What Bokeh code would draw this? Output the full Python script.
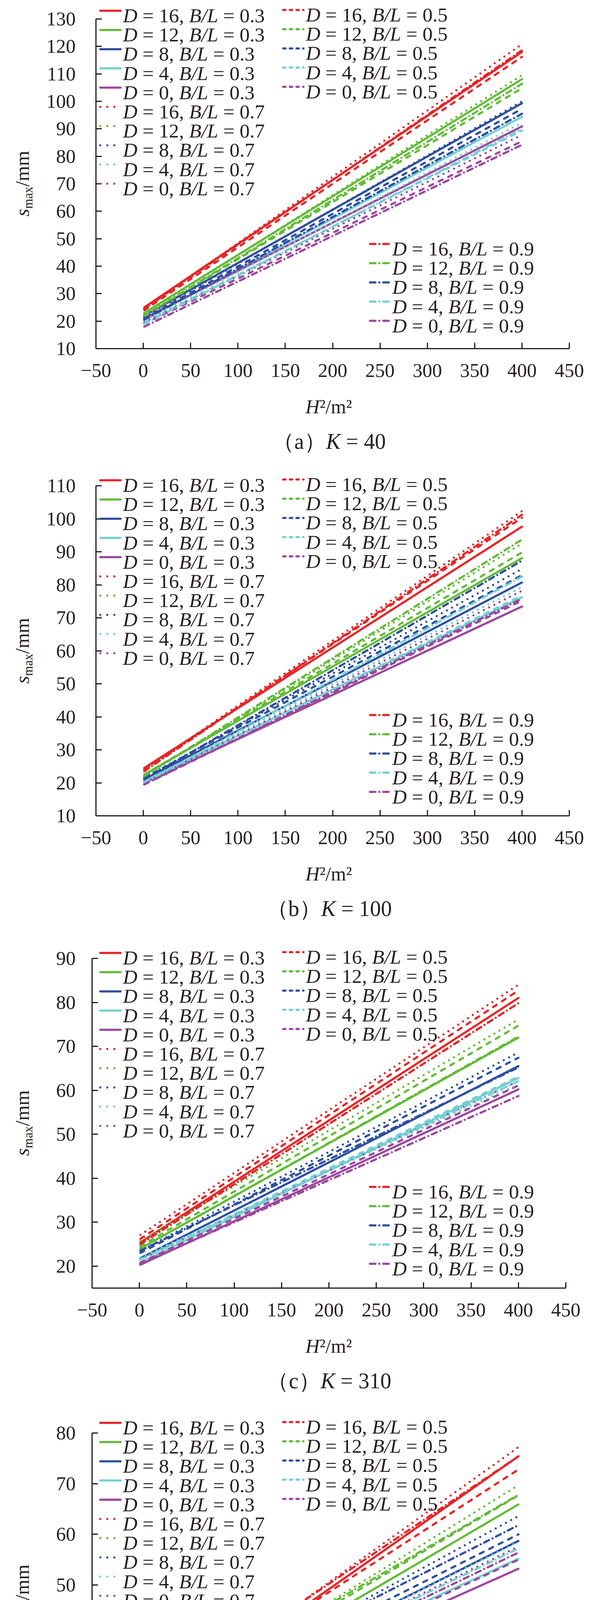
import math
from bokeh.plotting import figure
from bokeh.models import Label, Arrow, FixedTicker, Range1d, Div
from bokeh.layouts import column, row
from bokeh.embed import file_html
from bokeh.resources import INLINE

# ---------------- data ----------------
H2 = [1, 400]                      # H^2 / m^2 (first and last computed point)
D_values = [16, 12, 8, 4, 0]
BL_values = [0.3, 0.5, 0.7, 0.9]
K_values = [40, 100, 310, 500, 975]
panel_letters = ["a", "b", "c", "d", "e"]
x_ticks = [-50, 0, 50, 100, 150, 200, 250, 300, 350, 400, 450]

# s_max (mm) at H2[0] and H2[1]; one pair per D (16, 12, 8, 4, 0)
k40_bl03 = [[25.0, 118.0], [23.0, 108.1], [22.0, 99.3], [20.5, 94.4], [21.0, 90.9]]
k40_bl05 = [[24.0, 116.2], [22.0, 104.8], [21.0, 97.3], [19.5, 89.4], [19.0, 85.5]]
k40_bl07 = [[24.5, 120.8], [22.5, 109.5], [21.5, 100.0], [20.0, 92.2], [19.5, 87.8]]
k40_bl09 = [[24.5, 118.6], [22.0, 106.4], [20.5, 95.5], [19.0, 90.0], [18.0, 84.2]]

k100_bl03 = [[24.5, 97.6], [22.5, 88.1], [21.0, 80.7], [20.5, 76.2], [20.0, 73.4]]
k100_bl05 = [[24.0, 100.3], [22.5, 89.8], [21.5, 82.9], [20.0, 76.8], [19.5, 75.2]]
k100_bl07 = [[24.0, 102.3], [22.0, 92.5], [21.5, 84.8], [20.5, 79.3], [20.0, 78.2]]
k100_bl09 = [[23.5, 101.2], [22.0, 93.7], [21.0, 87.3], [20.0, 82.5], [19.5, 75.8]]

k310_bl03 = [[25.4, 81.0], [24.0, 72.0], [21.8, 65.5], [20.8, 62.8], [20.3, 60.2]]
k310_bl05 = [[26.2, 82.7], [24.5, 74.7], [23.0, 67.4], [21.5, 63.1], [20.8, 61.1]]
k310_bl07 = [[27.1, 84.0], [25.7, 76.1], [23.5, 68.6], [22.0, 61.4], [21.5, 62.1]]
k310_bl09 = [[25.0, 79.8], [24.0, 72.2], [23.5, 65.2], [21.5, 62.1], [20.5, 58.7]]

k500_bl03 = [[23.1, 75.4], [22.2, 65.9], [21.4, 58.7], [20.8, 55.2], [19.9, 53.2]]
k500_bl05 = [[24.5, 72.8], [23.5, 67.7], [22.5, 60.0], [20.5, 55.0], [20.0, 55.0]]
k500_bl07 = [[24.0, 77.2], [23.5, 69.7], [23.0, 63.6], [21.5, 58.5], [21.0, 57.6]]
k500_bl09 = [[25.2, 75.4], [24.6, 67.8], [24.0, 61.8], [21.0, 57.2], [20.5, 56.4]]

k975_bl03 = [[22.0, 69.4], [21.5, 60.6], [21.0, 54.3], [20.0, 51.3], [19.5, 49.3]]
k975_bl05 = [[23.0, 76.0], [22.0, 68.0], [21.5, 61.4], [20.5, 57.7], [20.0, 55.0]]
k975_bl07 = [[22.0, 72.5], [21.5, 65.0], [21.0, 58.7], [20.0, 55.6], [20.0, 53.5]]
k975_bl09 = [[22.0, 72.7], [21.5, 65.4], [21.0, 58.9], [20.5, 56.5], [20.0, 56.0]]

series_by_K = [
    [k40_bl03, k40_bl05, k40_bl07, k40_bl09],
    [k100_bl03, k100_bl05, k100_bl07, k100_bl09],
    [k310_bl03, k310_bl05, k310_bl07, k310_bl09],
    [k500_bl03, k500_bl05, k500_bl07, k500_bl09],
    [k975_bl03, k975_bl05, k975_bl07, k975_bl09],
]

# ---------------- styles ----------------
FONT = "Liberation Serif"
TXT = "#231f20"
D_colors = ["#e52629", "#63bb38", "#2e4f9f", "#74cfd2", "#9b479f"]
BL_dash = ["solid", "11 16", "0 15", "14 10 0 10"]
BL_dash_legend = ["solid", "6 11", "0 18", "14 10 0 10"]
LW = 5.5

W_REG = {' ': 250, '=': 564, ',': 250, '.': 250, '/': 278}
W_ITA = {'D': 722, 'B': 611, 'L': 556, '/': 278}


def tw(s, italic, size):
    tab = W_ITA if italic else W_REG
    return sum((500 if ch.isdigit() else tab.get(ch, 500)) for ch in s) * size / 1000.0


# layout of each panel in the reference (panel-local pixels)
panels = [
    dict(yr=(10, 130), yt=list(range(10, 131, 10)), L=253, R=1464, T=56, B=900, y0=35, y3=632, ystd=52, yc=478),
    dict(yr=(10, 110), yt=list(range(10, 111, 10)), L=253, R=1464, T=51, B=896, y0=37, y3=638, ystd=52, yc=474),
    dict(yr=(15, 90), yt=list(range(20, 91, 10)), L=243, R=1455, T=61, B=905, y0=47, y3=646, ystd=42, yc=483),
    dict(yr=(15, 80), yt=list(range(20, 81, 10)), L=243, R=1455, T=76, B=919, y0=50, y3=648, ystd=42, yc=497),
    dict(yr=(15, 80), yt=list(range(20, 81, 10)), L=243, R=1455, T=73, B=918, y0=57, y3=653, ystd=42, yc=495),
]
block_heights = [1192, 1200, 1200, 1200, 1184]
LEFT_W = 110          # width of the y-title strip
FIG_W = 1519 - LEFT_W
FIG_X0 = 8 + LEFT_W   # reference x where the figure starts
ROW = 49.2
LS = 51.5             # legend font size
BELOW = 100           # space under the frame kept inside the figure


def abs_box(html, left, top, width, height, size, extra=""):
    return (f'<div style="position:absolute; left:{left:.1f}px; top:{top:.1f}px; width:{width}px; '
            f'height:{height}px; text-align:center; font-family:\'{FONT}\'; font-size:{size}px; '
            f'line-height:1; white-space:nowrap; color:{TXT}; {extra}">{html}</div>')


blocks = []
for k, cfg in enumerate(panels):
    t0 = 8 if k == 0 else 0
    Hb = block_heights[k]
    L, R, T, B = cfg["L"], cfg["R"], cfg["T"], cfg["B"]
    ylo, yhi = cfg["yr"]
    upp = (yhi - ylo) / (B - T)
    ytop = ylo + (B - t0) * upp        # frame reaches the top of the block (room for legend)
    Fh = B + BELOW - t0

    p = figure(width=FIG_W, height=Fh, output_backend="svg", toolbar_location=None,
               x_range=Range1d(-50, 450), y_range=Range1d(ylo, ytop),
               min_border_left=L - FIG_X0, min_border_right=FIG_W - (R - FIG_X0),
               min_border_top=0, min_border_bottom=BELOW, margin=(0, 0, 0, 0))
    p.outline_line_color = None
    p.grid.visible = False
    p.background_fill_color = "white"
    p.border_fill_color = "white"

    for ax in (p.xaxis[0], p.yaxis[0]):
        ax.axis_line_width = 3
        ax.axis_line_color = TXT
        ax.major_tick_line_width = 3
        ax.major_tick_line_color = TXT
        ax.major_tick_in = 15
        ax.major_tick_out = 0
        ax.minor_tick_line_color = None
        ax.major_label_text_font = FONT
        ax.major_label_text_font_size = "50px"
        ax.major_label_text_color = TXT
    p.xaxis.ticker = FixedTicker(ticks=x_ticks)
    p.xaxis.major_label_overrides = {-50: "−50"}
    p.xaxis.major_label_standoff = 39
    p.yaxis.ticker = FixedTicker(ticks=cfg["yt"])
    p.yaxis.bounds = (ylo, yhi)
    p.yaxis.major_label_standoff = cfg["ystd"]

    data = series_by_K[k]
    for j, bl in enumerate(BL_values):
        for i, d in enumerate(D_values):
            p.line(H2, data[j][i], line_color=D_colors[i], line_width=LW,
                   line_dash=BL_dash[j], line_cap="round", line_join="round")

    def add_segs(segs, rx, ry, size):
        pos = 0.0
        for text, ital in segs:
            lead = len(text) - len(text.lstrip(" "))
            core = text.strip(" ")
            x = rx + pos + tw(" " * lead, False, size)
            p.add_layout(Label(x=x - L, y=B - ry, x_units="screen", y_units="screen", text=core,
                               text_font=FONT, text_font_size=f"{size}px",
                               text_font_style="italic" if ital else "normal",
                               text_color=TXT, text_align="left", text_baseline="alphabetic"))
            pos += tw(text, ital, size)

    # legend: columns of (sample x1, x2, text x, first row y, B/L indices)
    legend_cols = [
        (264, 316, 322, cfg["y0"], [0, 2]),
        (732, 784, 790, cfg["y0"] - 2, [1]),
        (954, 1005, 1011, cfg["y3"], [3]),
    ]
    for x1, x2, xt, yfirst, bls in legend_cols:
        r = 0
        for j in bls:
            for i, d in enumerate(D_values):
                yy = yfirst + r * ROW
                p.add_layout(Arrow(end=None, x_start=x1 - L, y_start=B - yy, x_end=x2 - L, y_end=B - yy,
                                   start_units="screen", end_units="screen",
                                   line_color=D_colors[i], line_width=LW,
                                   line_dash=BL_dash_legend[j], line_cap="round"))
                segs = [("D", True), (f" = {d}, ", False), ("B/L", True), (f" = {BL_values[j]}", False)]
                add_segs(segs, xt, yy + 12, LS)
                r += 1

    # y title strip: text box rotated about its top-left corner
    YW = 180
    base_x = 82 - 8                 # baseline position inside the strip
    X = base_x - 0.8375 * 50
    Y = (cfg["yc"] - t0) + YW / 2
    ytitle = ('<i>s</i><span style="font-size:33px; vertical-align:-9px;">max</span>/mm')
    ydiv_html = (f'<div style="position:relative; width:{LEFT_W}px; height:{Hb}px;">'
                 + abs_box(ytitle, X, Y, YW, 50, 50,
                           "transform:rotate(-90deg); transform-origin:0 0;")
                 + '</div>')
    ydiv = Div(text=ydiv_html, width=LEFT_W, height=Hb, margin=(0, 0, 0, 0),
               styles={"overflow": "visible"})

    # x title + caption strip under the figure
    Hbot = Hb - Fh
    xt_base = 66
    cap_base = 158
    xtitle = '<i>H</i>²/m²'
    caption = f'（{panel_letters[k]}）<i>K</i> = {K_values[k]}'
    bdiv_html = (f'<div style="position:relative; width:{FIG_W}px; height:{Hbot}px;">'
                 + abs_box(xtitle, (849 - FIG_X0) - 200, xt_base - 0.8375 * 50, 400, 50, 50)
                 + abs_box(caption, (850 - FIG_X0) - 300, cap_base - 0.86 * 56, 600, 56, 56)
                 + '</div>')
    bdiv = Div(text=bdiv_html, width=FIG_W, height=Hbot, margin=(0, 0, 0, 0),
               styles={"overflow": "visible"})

    blocks.append(row(ydiv, column(p, bdiv, spacing=0), spacing=0))

layout = column(*blocks, spacing=0)
open("out.html", "w").write(file_html(layout, INLINE))
